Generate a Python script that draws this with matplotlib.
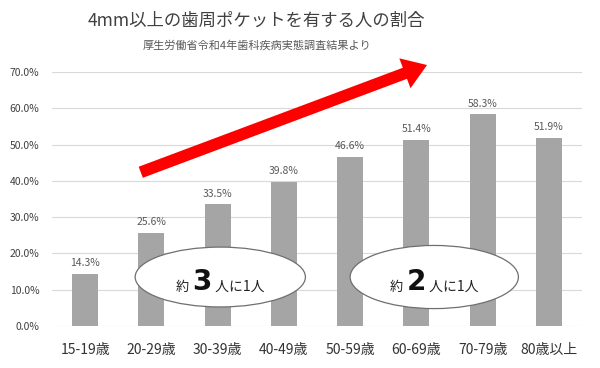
import matplotlib
matplotlib.use("Agg")
import matplotlib.pyplot as plt
from matplotlib.patches import Ellipse, FancyArrowPatch, ArrowStyle
from matplotlib.offsetbox import TextArea, HPacker, AnnotationBbox

plt.rcParams['font.family'] = ['Noto Sans CJK JP', 'DejaVu Sans']

# data
ages = ['15-19歳', '20-29歳', '30-39歳', '40-49歳', '50-59歳', '60-69歳', '70-79歳', '80歳以上']
rates = [14.3, 25.6, 33.5, 39.8, 46.6, 51.4, 58.3, 51.9]
yticks = [0, 10, 20, 30, 40, 50, 60, 70]
title = '4mm以上の歯周ポケットを有する人の割合'
subtitle = '厚生労働省令和4年歯科疾病実態調査結果より'

fig = plt.figure(figsize=(6, 3.68), dpi=100)
ax = fig.add_axes([0.0867, 0.1141, 0.97 - 0.0867, 0.8043 - 0.1141])

x = list(range(len(ages)))
bars = ax.bar(x, rates, width=0.39, color='#A5A5A5', zorder=2)
for xi, v in zip(x, rates):
    ax.text(xi, v + 1.6, '%.1f%%' % v, ha='center', va='bottom', fontsize=7.5, color='#595959')

ax.set_xlim(-0.5, len(ages) - 0.5)
ax.set_ylim(0, 70)
ax.set_yticks(yticks)
ax.set_yticklabels(['%.1f%%' % t for t in yticks], fontsize=7.5, color='#404040')
ax.set_xticks(x)
ax.set_xticklabels(ages, fontsize=10, color='#333333')
ax.tick_params(axis='both', length=0)
ax.tick_params(axis='y', pad=9)
ax.tick_params(axis='x', pad=12)
ax.grid(axis='y', color='#D9D9D9', lw=0.8, zorder=0)
for s in ax.spines.values():
    s.set_visible(False)

fig.text(0.428, 0.945, title, ha='center', va='center', fontsize=12.5, color='#404040')
fig.text(0.428, 0.878, subtitle, ha='center', va='center', fontsize=8, color='#595959')

# red trend arrow
arr = FancyArrowPatch((0.8, 42.1), (5.2, 72.2),
                      arrowstyle=ArrowStyle.Simple(head_length=1.7, head_width=2.3, tail_width=0.85),
                      mutation_scale=10, color='#FF0000', lw=0, clip_on=False, zorder=5)
ax.add_patch(arr)

# ellipses with text
def bubble(cx, cy, w, h, num):
    e = Ellipse((cx, cy), w, h, facecolor='white', edgecolor='#6F6F6F', lw=0.9, zorder=6, clip_on=False)
    ax.add_patch(e)
    parts = [TextArea('約 ', textprops=dict(fontsize=9.5, color='#222222')),
             TextArea(num, textprops=dict(fontsize=20, color='#111111', weight='bold', family='DejaVu Sans')),
             TextArea(' 人に1人', textprops=dict(fontsize=10, color='#222222'))]
    box = HPacker(children=parts, align='baseline', pad=0, sep=0)
    ab = AnnotationBbox(box, (cx, cy - 1.5), frameon=False, zorder=7, box_alignment=(0.5, 0.5))
    ax.add_artist(ab)

bubble(2.04, 13.5, 2.57, 16.5, '3')
bubble(5.27, 13.5, 2.54, 17.4, '2')

fig.savefig('out.png', dpi=100, facecolor='white')
